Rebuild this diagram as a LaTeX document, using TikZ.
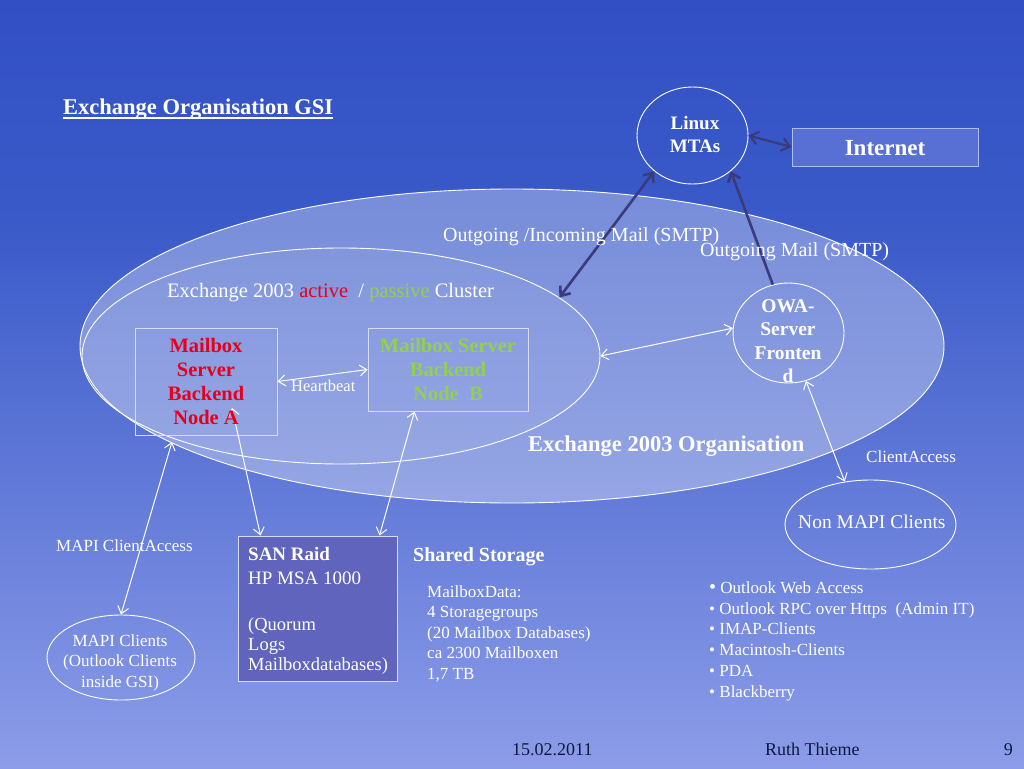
\documentclass[tikz,border=0pt]{standalone}
\usepackage{fontspec}
\setmainfont{Liberation Serif}
\usetikzlibrary{arrows.meta,shapes.geometric,calc}
\definecolor{bgtop}{RGB}{50,80,196}
\definecolor{bgmid}{RGB}{58,90,201}
\definecolor{bgbot}{RGB}{140,156,232}
\definecolor{darkarr}{RGB}{58,58,125}
\definecolor{nodered}{RGB}{230,0,30}
\definecolor{nodegreen}{RGB}{146,208,80}
\definecolor{footc}{RGB}{16,24,64}
\definecolor{inetfill}{RGB}{88,112,212}
\definecolor{inetline}{RGB}{175,190,240}
\definecolor{sanfill}{RGB}{96,100,188}
\definecolor{boxline}{RGB}{215,220,245}
\newcommand\fsz[2]{\fontsize{#1}{#2}\selectfont}
\begin{document}
\begin{tikzpicture}[x=1pt,y=-1pt,
  tw/.style={text=white, inner sep=0pt, anchor=base west},
  twc/.style={text=white, inner sep=0pt, anchor=base, align=center},
  oval/.style={ellipse, draw=white, line width=0.9pt, inner sep=0pt},
  wbox/.style={rectangle, draw=boxline, line width=1pt, inner sep=0pt},
  warr/.style={draw=white, line width=1pt, {Straight Barb[length=7pt,width=11pt]}-{Straight Barb[length=7pt,width=11pt]}},
  darr/.style={draw=darkarr, line width=2.6pt, -{Straight Barb[length=8pt,width=13pt]}},
  ddarr/.style={draw=darkarr, line width=2.6pt, {Straight Barb[length=8pt,width=13pt]}-{Straight Barb[length=8pt,width=13pt]}},
  foot/.style={text=footc, inner sep=0pt, font=\fsz{18}{20}}
]
\useasboundingbox (0,0) rectangle (1024,768);
\shade[top color=bgtop, bottom color=bgmid] (0,0) rectangle (1024,221);
\shade[top color=bgmid, bottom color=bgbot] (0,220) rectangle (1024,768);

% ellipses
\node[oval, fill=white, fill opacity=0.32, minimum width=864pt, minimum height=314pt] (org) at (512,346) {};
\node[oval, fill=white, fill opacity=0.05, minimum width=518pt, minimum height=216pt] (cluster) at (341,356) {};
\node[oval, minimum width=111pt, minimum height=97pt] (mta) at (692.5,135.5) {};
\node[oval, minimum width=111pt, minimum height=100pt] (owa) at (788.5,333) {};
\node[oval, minimum width=171pt, minimum height=89pt] (nonmapi) at (870.5,524.5) {};
\node[oval, minimum width=148pt, minimum height=85pt] (mapi) at (121,657.5) {};

% boxes
\node[wbox, minimum width=142pt, minimum height=107pt] (boxA) at (206,381.5) {};
\node[wbox, minimum width=160pt, minimum height=83pt] (boxB) at (448,369.5) {};
\node[rectangle, draw=inetline, fill=inetfill, line width=1pt, inner sep=0pt, minimum width=186pt, minimum height=38pt] (inet) at (885,147) {};
\node[rectangle, draw=boxline, fill=sanfill, line width=1pt, inner sep=0pt, minimum width=159pt, minimum height=145pt] (san) at (317.5,608.5) {};

% connectors
\draw[ddarr] (cluster.15.5) -- (mta.223);
\draw[darr] (owa.108) -- (mta.-43.5);
\draw[ddarr, line width=2.2pt] (mta.east) -- (inet.west);
\draw[warr] (boxA.east) -- (boxB.west);
\draw[warr] (cluster.east) -- (owa.175);
\draw[warr] (owa.-70) -- (nonmapi.121);
\coordinate (mapiend) at (172,442);
\draw[warr] (mapiend) -- (mapi.north);
\coordinate (atop) at (232,408);
\draw[warr] (atop) -- ($(san.north west)+(23,0)$);
\draw[warr] ($(boxB.south west)+(47,0)$) -- ($(san.north east)+(-18,0)$);

% texts (multi-line nodes: base anchor = last line baseline)
\node[tw, font=\bfseries\fsz{22.5}{26}] (title) at (63,114) {Exchange Organisation GSI};
\draw[white, line width=1.4pt] ($(title.base west)+(0,4)$) -- ($(title.base east)+(0,4)$);
\node[twc, font=\bfseries\fsz{19}{23}] (mtatext) at (695,152) {Linux\\MTAs};
\node[twc, font=\bfseries\fsz{23}{26}] (inettext) at (885,155) {Internet};
\node[tw, font=\fsz{20}{24}] (smtp1) at (443,241) {Outgoing /Incoming Mail (SMTP)};
\node[tw, font=\fsz{20}{24}] (smtp2) at (700,256) {Outgoing Mail (SMTP)};
\node[tw, font=\fsz{20.5}{24}] (clus) at (167,297) {Exchange 2003 \textcolor{nodered}{active}\ \ / \textcolor{nodegreen}{passive} Cluster};
\node[twc, text=nodered, font=\bfseries\fsz{20.5}{24}] (atext) at (206,424) {Mailbox\\Server\\Backend\\Node A};
\node[twc, text=nodegreen, font=\bfseries\fsz{20.5}{24}] (btext) at (448,400) {Mailbox Server\\Backend\\Node\ \ B};
\node[tw, font=\fsz{16.5}{20}] (hb) at (291,391) {Heartbeat};
\node[twc, font=\bfseries\fsz{19.5}{23.5}] (owatext) at (788,382.5) {OWA-\\Server\\Fronten\\d};
\node[tw, font=\bfseries\fsz{22.5}{26}] (orgtext) at (528,451) {Exchange 2003 Organisation};
\node[tw, font=\fsz{17}{20}] (ca) at (866,462) {ClientAccess};
\node[tw, font=\fsz{19.5}{23}] (nmtext) at (798,528) {Non MAPI Clients};
\node[tw, font=\fsz{17}{20}] (mca) at (56,551) {MAPI ClientAccess};
\node[twc, font=\fsz{17}{20.5}] (mapitext) at (120,687) {MAPI Clients\\(Outlook Clients\\inside GSI)};
\node[tw, font=\bfseries\fsz{19}{24}] (santitle) at (248,560) {SAN Raid};
\node[tw, font=\fsz{19}{24}] (sanmodel) at (248,584) {HP MSA 1000};
\node[tw, align=left, font=\fsz{18.5}{20}] (sancontent) at (248,670) {(Quorum\\Logs\\Mailboxdatabases)};
\node[tw, font=\bfseries\fsz{20}{24}] (shared) at (413,561) {Shared Storage};
\node[tw, align=left, font=\fsz{17}{20.5}] (mbdata) at (427,679) {MailboxData:\\4 Storagegroups\\(20 Mailbox Databases)\\ca 2300 Mailboxen\\1,7 TB};
\node[tw, align=left, font=\fsz{17}{20.7}] (bullets) at (709,697) {{\fsz{20}{20.7}\textbullet}\ Outlook Web Access\\\textbullet\ Outlook RPC over Https\ \ (Admin IT)\\\textbullet\ IMAP-Clients\\\textbullet\ Macintosh-Clients\\\textbullet\ PDA\\\textbullet\ Blackberry};

% footer
\node[foot, anchor=base west] (date) at (512,755) {15.02.2011};
\node[foot, anchor=base west] (author) at (765,755) {Ruth Thieme};
\node[foot, anchor=base east] (pageno) at (1013,755) {9};
\end{tikzpicture}
\end{document}
